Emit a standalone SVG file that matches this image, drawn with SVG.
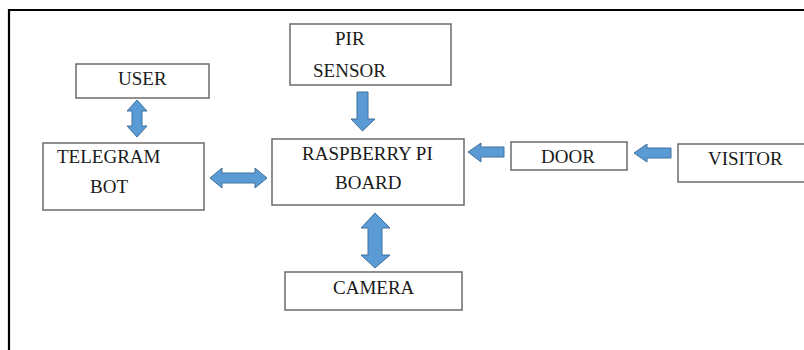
<svg xmlns="http://www.w3.org/2000/svg" width="804" height="350" viewBox="0 0 804 350">
<style>
.box{fill:#fff;stroke:#6b6b6b;stroke-width:1.5}
.t{font-family:"Liberation Serif","Times New Roman",serif;font-size:19px;fill:#1a1a1a}
.arr{fill:#5b9bd5;stroke:#41719c;stroke-width:1}
</style>
<rect width="804" height="350" fill="#fff"/>
<path d="M9 352 V10 H806" fill="none" stroke="#000" stroke-width="2.2"/>
<g id="pir"><rect class="box" x="290" y="24" width="161" height="61"/><text class="t" x="335" y="45">PIR</text><text class="t" x="313" y="77">SENSOR</text></g>
<g id="user"><rect class="box" x="76" y="64" width="133" height="34"/><text class="t" x="118" y="85">USER</text></g>
<g id="bot"><rect class="box" x="43" y="143" width="161" height="67"/><text class="t" x="57" y="163">TELEGRAM</text><text class="t" x="90" y="193">BOT</text></g>
<g id="rpi"><rect class="box" x="272" y="139" width="192" height="66"/><text class="t" x="302" y="160">RASPBERRY PI</text><text class="t" x="335" y="189">BOARD</text></g>
<g id="door"><rect class="box" x="511" y="142" width="116" height="28"/><text class="t" x="541" y="163">DOOR</text></g>
<g id="visitor"><rect class="box" x="678" y="144" width="140" height="38"/><text class="t" x="708" y="165">VISITOR</text></g>
<g id="camera"><rect class="box" x="285" y="272" width="177" height="38"/><text class="t" x="333" y="294">CAMERA</text></g>
<g id="connectors">
<path class="arr" d="M137 100 L147 111 L142 111 L142 126 L147 126 L137 137 L127 126 L132 126 L132 111 L127 111 Z"/>
<path class="arr" d="M210 178 L222 168 L222 173 L255 173 L255 168 L267 178 L255 188 L255 183 L222 183 L222 188 Z"/>
<path class="arr" d="M357 92 L368 92 L368 119 L375 119 L362.5 131 L351 119 L357 119 Z"/>
<path class="arr" d="M468 152 L481 143 L481 147 L504 147 L504 157 L481 157 L481 162 Z"/>
<path class="arr" d="M634 153 L647 144 L647 148 L671 148 L671 158 L647 158 L647 162 Z"/>
<path class="arr" d="M375 213 L390 228 L382 228 L382 255 L390 255 L375 268 L361 255 L368 255 L368 228 L361 228 Z"/>
</g>
</svg>
